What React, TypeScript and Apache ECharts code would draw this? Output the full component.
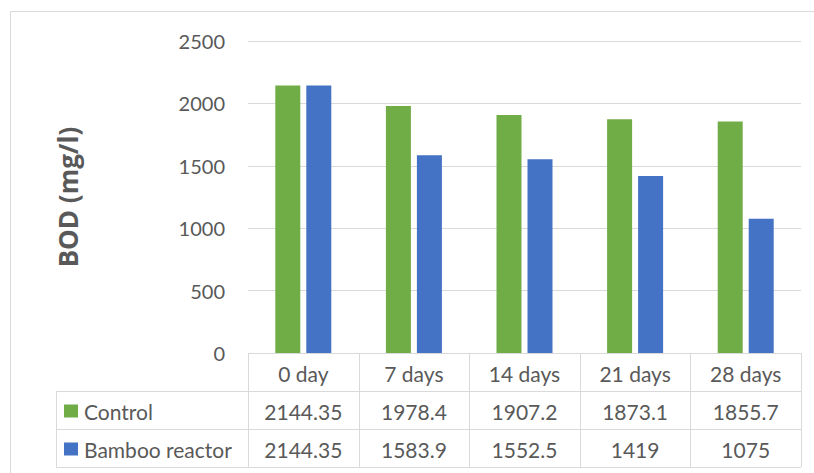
import React, { useEffect, useRef } from "react";
import * as echarts from "echarts";

const categories = ["0 day", "7 days", "14 days", "21 days", "28 days"];
const controlValues = [2144.35, 1978.4, 1907.2, 1873.1, 1855.7];
const bambooValues = [2144.35, 1583.9, 1552.5, 1419, 1075];
const seriesNames = ["Control", "Bamboo reactor"];
const seriesColors = ["#70AD47", "#4472C4"];
const yTicks = { min: 0, max: 2500, interval: 500 };
const yTitle = "BOD (mg/l)";

export default function App() {
  const ref = useRef<HTMLDivElement>(null);
  useEffect(() => {
    if (!ref.current) return;
    const chart = echarts.init(ref.current, null, { renderer: "svg" });
    const W = 814;
    const gl = 248, gr = 801, gt = 41, gb = 353;
    const rows = [353, 391, 429, 467];
    const tableLeft = 56;
    const lineColor = "#D9D9D9";
    const textColor = "#595959";
    const font = "Lato, 'Open Sans', sans-serif";
    const fs = 20;
    const tfs = 21;
    const cw = (gr - gl) / categories.length;
    const graphics: any[] = [];
    graphics.push({
      type: "rect",
      shape: { x: 10.5, y: 11.5, width: 900, height: 600 },
      style: { fill: "none", stroke: lineColor, lineWidth: 1 },
      silent: true,
    });
    graphics.push({ type: "line", shape: { x1: gl, y1: rows[0] + 0.5, x2: gr, y2: rows[0] + 0.5 }, style: { stroke: lineColor, lineWidth: 1 } });
    for (let i = 1; i < rows.length; i++) {
      graphics.push({ type: "line", shape: { x1: tableLeft, y1: rows[i] + 0.5, x2: gr, y2: rows[i] + 0.5 }, style: { stroke: lineColor, lineWidth: 1 } });
    }
    for (let i = 0; i <= categories.length; i++) {
      const x = Math.round(gl + cw * i) + 0.5;
      graphics.push({ type: "line", shape: { x1: x, y1: rows[0], x2: x, y2: rows[3] }, style: { stroke: lineColor, lineWidth: 1 } });
    }
    graphics.push({ type: "line", shape: { x1: tableLeft + 0.5, y1: rows[1], x2: tableLeft + 0.5, y2: rows[3] }, style: { stroke: lineColor, lineWidth: 1 } });
    categories.forEach((c, i) => {
      graphics.push({
        type: "text",
        x: gl + cw * (i + 0.5),
        y: (rows[0] + rows[1]) / 2 + 1,
        style: { text: c, fill: textColor, font: `${tfs}px ${font}`, textAlign: "center", textVerticalAlign: "middle" },
      });
    });
    const seriesData = [controlValues, bambooValues];
    seriesData.forEach((vals, r) => {
      const cy = (rows[r + 1] + rows[r + 2]) / 2 + 1;
      graphics.push({
        type: "rect",
        shape: { x: 64, y: cy - 6.5, width: 14, height: 13 },
        style: { fill: seriesColors[r] },
      });
      graphics.push({
        type: "text",
        x: 84,
        y: cy,
        style: { text: seriesNames[r], fill: textColor, font: `${tfs}px ${font}`, textAlign: "left", textVerticalAlign: "middle" },
      });
      vals.forEach((v, i) => {
        graphics.push({
          type: "text",
          x: gl + cw * (i + 0.5),
          y: cy,
          style: { text: String(v), fill: textColor, font: `${tfs}px ${font}`, textAlign: "center", textVerticalAlign: "middle" },
        });
      });
    });

    chart.setOption({
      animation: false,
      backgroundColor: "#ffffff",
      grid: { left: gl, right: W - gr, top: gt, bottom: 473 - gb, containLabel: false },
      xAxis: {
        type: "category",
        data: categories,
        axisLine: { show: false },
        axisTick: { show: false },
        axisLabel: { show: false },
      },
      yAxis: {
        type: "value",
        min: yTicks.min,
        max: yTicks.max,
        interval: yTicks.interval,
        name: yTitle,
        nameLocation: "middle",
        nameGap: 167,
        nameRotate: 90,
        nameTextStyle: { fontFamily: "'Open Sans', sans-serif", fontSize: 26, fontWeight: "bold", color: "#595959" },
        axisLine: { show: false },
        axisTick: { show: false },
        axisLabel: { margin: 23, fontFamily: font, fontSize: fs, color: "#595959", formatter: (v: number) => String(v) },
        splitLine: { lineStyle: { color: lineColor, width: 1 } },
      },
      series: [
        { type: "bar", name: seriesNames[0], data: controlValues, itemStyle: { color: seriesColors[0] }, barWidth: 25, barGap: "24%" },
        { type: "bar", name: seriesNames[1], data: bambooValues, itemStyle: { color: seriesColors[1] }, barWidth: 25, barGap: "24%" },
      ],
      graphic: graphics,
    });
    return () => chart.dispose();
  }, []);
  return <div ref={ref} style={{ position: "fixed", left: 0, top: 0, width: 814, height: 473 }} />;
}
